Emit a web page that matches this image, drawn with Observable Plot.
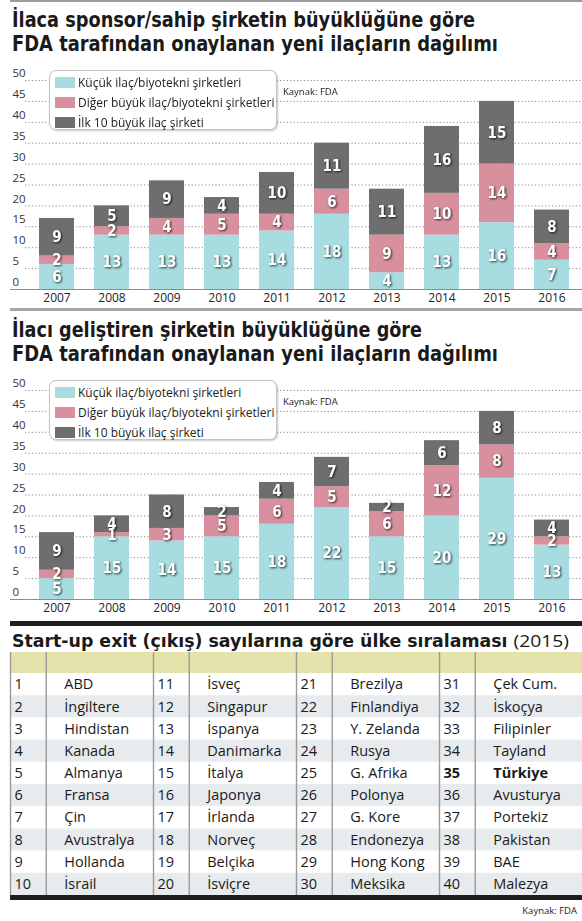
<!DOCTYPE html>
<html><head><meta charset="utf-8">
<script src="https://cdn.jsdelivr.net/npm/d3@7"></script>
<script src="https://cdn.jsdelivr.net/npm/@observablehq/plot@0.6"></script>
<style>
body{margin:0;background:#fff;}
#page{position:relative;width:582px;height:921px;overflow:hidden;font-family:"Open Sans",sans-serif;color:#222;}
.title{position:absolute;left:12px;white-space:nowrap;font-family:"DejaVu Sans Condensed","DejaVu Sans",sans-serif;font-stretch:condensed;font-weight:bold;font-size:21px;line-height:24px;color:#1a1a1a;transform-origin:0 0;}
.title .reg{font-weight:normal;font-family:"Open Sans",sans-serif;font-stretch:normal;}
.hr{position:absolute;left:10px;right:0;}
.legend{position:absolute;left:49px;width:228px;height:60px;box-sizing:border-box;border:1px solid #c4c4c4;border-radius:7px;background:#fff;box-shadow:1px 1px 2px rgba(0,0,0,.22);}
.legend .row{position:absolute;left:5px;height:20px;display:flex;align-items:center;font-size:12px;white-space:nowrap;color:#222;}
.legend .sw{width:20px;height:11px;margin-right:3px;}
.src{position:absolute;font-size:9.5px;color:#222;white-space:nowrap;}
.chart{position:absolute;left:0;top:0;}
</style>
</head>
<body>
<div id="page">
  <div class="hr" style="top:0;height:2px;background:#9c9c9c"></div>
  <div class="title" style="top:8px" data-w="463">İlaca sponsor/sahip şirketin büyüklüğüne göre</div>
  <div class="title" style="top:32px" data-w="486">FDA tarafından onaylanan yeni ilaçların dağılımı</div>
  <div class="chart" id="c1" style="top:62px"></div>
  <div class="hr" style="top:308px;height:3px;background:#a6a6a6"></div>
  <div class="title" style="top:318px" data-w="410">İlacı geliştiren şirketin büyüklüğüne göre</div>
  <div class="title" style="top:342px" data-w="486">FDA tarafından onaylanan yeni ilaçların dağılımı</div>
  <div class="chart" id="c2" style="top:372px"></div>
  <div class="hr" style="top:621px;height:5px;background:#1e1e1e"></div>
  <div class="title" style="top:631px;font-size:17px;line-height:20px" data-w="557">Start-up exit (çıkış) sayılarına göre ülke sıralaması <span class="reg">(2015)</span></div>
  <div class="chart" id="c3" style="top:652px"></div>
  <div class="hr" style="top:895px;height:5px;background:#1e1e1e"></div>
  <div class="src" style="right:5px;top:904px">Kaynak: FDA</div>
</div>
<script>
const years = ["2007","2008","2009","2010","2011","2012","2013","2014","2015","2016"];
const series = ["Küçük ilaç/biyotekni şirketleri","Diğer büyük ilaç/biyotekni şirketleri","İlk 10 büyük ilaç şirketi"];
const colors = ["#a7dde1","#d8909f","#6e6e6e"];
const yTicks = [0,5,10,15,20,25,30,35,40,45,50];

// Chart 1: sponsor/owner company size
const small1 = [6,13,13,13,14,18,4,13,16,7];
const other1 = [2,2,4,5,4,6,9,10,14,4];
const top1   = [9,5,9,4,10,11,11,16,15,8];

// Chart 2: developer company size
const small2 = [5,15,14,15,18,22,15,20,29,13];
const other2 = [2,1,3,5,6,5,6,12,8,2];
const top2   = [9,4,8,2,4,7,2,6,8,4];

const sourceText = "Kaynak: FDA";

// Table
const ranks = [1,2,3,4,5,6,7,8,9,10,11,12,13,14,15,16,17,18,19,20,21,22,23,24,25,26,27,28,29,30,31,32,33,34,35,36,37,38,39,40];
const countries = ["ABD","İngiltere","Hindistan","Kanada","Almanya","Fransa","Çin","Avustralya","Hollanda","İsrail",
  "İsveç","Singapur","İspanya","Danimarka","İtalya","Japonya","İrlanda","Norveç","Belçika","İsviçre",
  "Brezilya","Finlandiya","Y. Zelanda","Rusya","G. Afrika","Polonya","G. Kore","Endonezya","Hong Kong","Meksika",
  "Çek Cum.","İskoçya","Filipinler","Tayland","Türkiye","Avusturya","Portekiz","Pakistan","BAE","Malezya"];
const highlighted = ["Türkiye"];

const valFont = {fontFamily: '"DejaVu Sans Condensed","DejaVu Sans",sans-serif', fontWeight: "bold", fontSize: 15};

function stackedChart(small, other, top10) {
  const vals = [small, other, top10];
  const rows = [];
  series.forEach((s, k) => years.forEach((yr, i) => rows.push({year: yr, series: s, value: vals[k][i]})));
  const svg = Plot.plot({
    width: 582, height: 246, marginTop: 18, marginBottom: 19, marginLeft: 0, marginRight: 0,
    style: {fontFamily: '"Open Sans",sans-serif', fontSize: "12px", color: "#222", background: "transparent", overflow: "visible"},
    x: {type: "band", domain: years, range: [24, 584], paddingInner: 0.357, paddingOuter: 0.18, tickSize: 0, tickPadding: 4, label: null},
    y: {domain: [0, 50], axis: null},
    color: {domain: series, range: colors},
    marks: [
      Plot.ruleY(yTicks.filter(d => d > 0), {y: d => d, stroke: "#8a8a8a", strokeDasharray: "1.2,2.2", insetLeft: 25}),
      Plot.barY(rows, {x: "year", y: "value", fill: "series"}),
      Plot.ruleY([0], {stroke: "#8c8c8c", strokeWidth: 1.2, insetLeft: 10}),
      Plot.text(yTicks, {y: d => d, text: d => String(d), frameAnchor: "left", dx: 12, dy: -7, textAnchor: "start", fontSize: 11.5, fill: "#333"}),
      Plot.text(rows, Plot.stackY({x: "year", y: "value", z: "series", text: d => String(d.value), fill: "white", ...valFont}))
    ]
  });
  // soft dark shadow behind the white value labels
  const groups = d3.select(svg).selectAll('g[aria-label="text"]').nodes();
  const valGroup = groups[groups.length - 1];
  if (valGroup) valGroup.style.filter = "drop-shadow(1px 1.2px 0.8px rgba(0,0,0,0.75))";
  return svg;
}

function legend(topPx) {
  const box = document.createElement("div");
  box.className = "legend";
  box.style.top = topPx + "px";
  series.forEach((s, k) => {
    const r = document.createElement("div");
    r.className = "row";
    r.style.top = (1 + 20 * k) + "px";
    r.innerHTML = `<span class="sw" style="background:${colors[k]}"></span><span>${s}</span>`;
    box.appendChild(r);
  });
  document.getElementById("page").appendChild(box);
  const src = document.createElement("div");
  src.className = "src";
  src.style.left = "283px";
  src.style.top = (topPx + 15) + "px";
  src.textContent = sourceText;
  document.getElementById("page").appendChild(src);
}

document.getElementById("c1").appendChild(stackedChart(small1, other1, top1));
document.getElementById("c2").appendChild(stackedChart(small2, other2, top2));
legend(70);
legend(380);

// Table drawn with Plot
const tableRows = countries.map((name, i) => ({rank: ranks[i], name, group: Math.floor(i / 10), row: i % 10}));
const rowIdx = [0,1,2,3,4,5,6,7,8,9];
const groups = [0,1,2,3];
const rankShare = 0.25;
const colLines = groups.flatMap(g => [g, g + rankShare]);
const tFont = {fontFamily: '"Open Sans",sans-serif', fontSize: 14.5, fill: "#1a1a1a", textAnchor: "start"};
const isBold = d => highlighted.includes(d.name);
const table = Plot.plot({
  width: 582, height: 243, margin: 0,
  style: {background: "transparent", overflow: "visible"},
  x: {domain: [0, 4], range: [10, 582], axis: null},
  y: {domain: [-0.95, 10], range: [0, 243], axis: null},
  color: {type: "identity"},
  marks: [
    Plot.rect([-1], {x1: () => 0, x2: () => 4, y1: () => -0.95, y2: () => 0, fill: () => "#e6e2ab"}),
    Plot.rect(rowIdx, {x1: () => 0, x2: () => 4, y1: d => d, y2: d => d + 1, fill: d => d % 2 ? "#e7ebee" : "#ffffff"}),
    Plot.ruleX(colLines, {x: d => d, y1: () => -0.95, y2: () => 10, stroke: "#9a9a9a", strokeWidth: 1.4}),
    Plot.text(tableRows.filter(d => !isBold(d)), {x: "group", y: d => d.row + 0.5, text: d => String(d.rank), dx: 4, ...tFont}),
    Plot.text(tableRows.filter(d => !isBold(d)), {x: d => d.group + rankShare, y: d => d.row + 0.5, text: "name", dx: 18, ...tFont}),
    Plot.text(tableRows.filter(isBold), {x: "group", y: d => d.row + 0.5, text: d => String(d.rank), dx: 4, fontWeight: "bold", ...tFont}),
    Plot.text(tableRows.filter(isBold), {x: d => d.group + rankShare, y: d => d.row + 0.5, text: "name", dx: 18, fontWeight: "bold", ...tFont})
  ]
});
document.getElementById("c3").appendChild(table);

function fit() {
  document.querySelectorAll(".title").forEach(el => {
    el.style.transform = "none";
    const w = el.getBoundingClientRect().width;
    if (w > 0) el.style.transform = `scaleX(${(+el.dataset.w) / w})`;
  });
}
fit();
if (document.fonts) document.fonts.ready.then(fit);
</script>
</body></html>
